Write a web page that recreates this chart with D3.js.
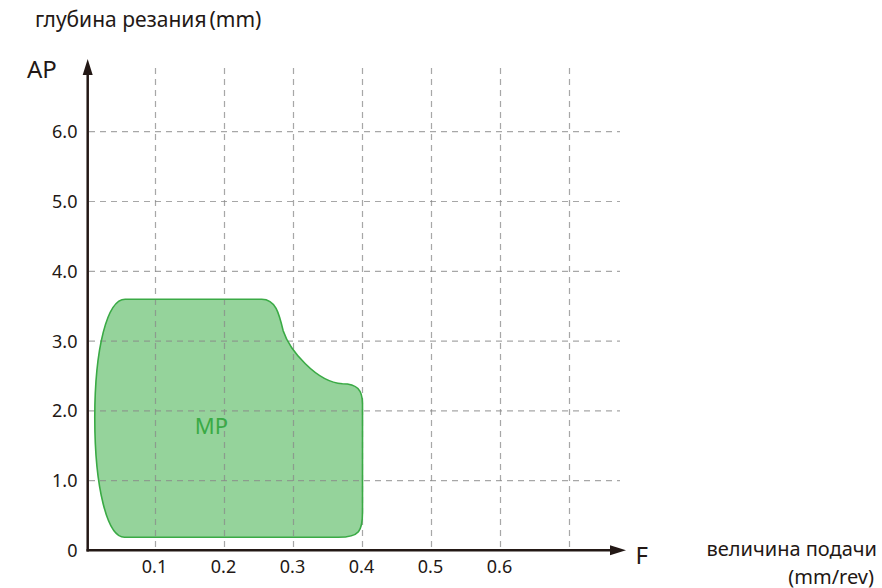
<!DOCTYPE html>
<html><head><meta charset="utf-8">
<script src="https://cdn.jsdelivr.net/npm/d3@7/dist/d3.min.js"></script>
<style>body{margin:0;background:#fff}svg{display:block}text{font-family:"Noto Sans","Open Sans",sans-serif;fill:#231815}</style>
</head><body><svg id="c" width="882" height="588"></svg>
<script>
const xTicks = [0.1,0.2,0.3,0.4,0.5,0.6];
const xGrid = [0.1,0.2,0.3,0.4,0.5,0.6,0.7];
const yTicks = [0,1,2,3,4,5,6];
const yTickLabels = ["0","1.0","2.0","3.0","4.0","5.0","6.0"];
const yGrid = [1,2,3,4,5,6];
// MP region outline (feed F, depth AP): path commands and their points
const mpCmd = ["M","L","C","C","C","L","C","L","C","C"];
const mpF  = [0.056, 0.254, 0.274,0.279,0.285, 0.294,0.333,0.371, 0.392,0.400,0.400, 0.400, 0.400,0.396,0.365, 0.055, 0.030,0.012,0.012, 0.012,0.030,0.056];
const mpAP = [3.6,   3.6,   3.6,3.40,3.15,     2.88,2.41,2.39,    2.39,2.30,2.10,    0.55,  0.28,0.19,0.19,    0.19,  0.19,0.90,1.90,    2.90,3.60,3.60];

const svg = d3.select("#c");
const x = d3.scaleLinear().domain([0,0.1]).range([86.5,155.5]);
const y = d3.scaleLinear().domain([0,1]).range([550.5,480.7]);
const ink = "#231815";

// region path built from scaled data
const p = d3.path();
let k = 0;
mpCmd.forEach(c=>{
  if(c==="M"){p.moveTo(x(mpF[k]),y(mpAP[k]));k+=1;}
  else if(c==="L"){p.lineTo(x(mpF[k]),y(mpAP[k]));k+=1;}
  else {p.bezierCurveTo(x(mpF[k]),y(mpAP[k]),x(mpF[k+1]),y(mpAP[k+1]),x(mpF[k+2]),y(mpAP[k+2]));k+=3;}
});
p.closePath();
const dStr = p.toString();
svg.append("path").attr("d",dStr).attr("fill","#95d39b").attr("stroke","none");

// grid (over fill)
const g = svg.append("g").attr("stroke","#8a8a8a").attr("stroke-opacity",0.75).attr("stroke-width",1.2).attr("stroke-dasharray","6,5");
g.selectAll(".h").data(yGrid).join("line").attr("x1",89).attr("x2",620).attr("y1",d=>y(d)).attr("y2",d=>y(d));
g.selectAll(".v").data(xGrid).join("line").attr("x1",d=>x(d)).attr("x2",d=>x(d)).attr("y1",68).attr("y2",549);

svg.append("path").attr("d",dStr).attr("fill","none").attr("stroke","#3aaa45").attr("stroke-width",1.6);
svg.append("text").attr("x",x(0.157)).attr("y",y(1.665)).attr("font-size",22).style("fill","#3aaa45").text("MP");

// axes
svg.append("line").attr("x1",87.7).attr("x2",87.7).attr("y1",551.5).attr("y2",70).attr("stroke",ink).attr("stroke-width",2.5);
svg.append("path").attr("d","M87.7,59 L82.7,75 L92.7,75 Z").attr("fill",ink);
svg.append("line").attr("x1",86.5).attr("x2",614).attr("y1",550.3).attr("y2",550.3).attr("stroke",ink).attr("stroke-width",2.5);
svg.append("path").attr("d","M626,550.3 L610,545.3 L610,555.3 Z").attr("fill",ink);

// tick labels
svg.selectAll(".yl").data(yTicks).join("text").attr("x",77.5).attr("y",d=>d===0?557:y(d)+6.5)
  .attr("text-anchor","end").attr("font-size",18).text((d,i)=>yTickLabels[i]);
svg.selectAll(".xl").data(xTicks).join("text").attr("x",d=>x(d)-1).attr("y",573)
  .attr("text-anchor","middle").attr("font-size",18).text(d=>d.toFixed(1));

// titles
const t = svg.append("text").attr("x",35).attr("y",27).attr("font-size",21);
t.append("tspan").text("глубина резания");
t.append("tspan").attr("dx",3).text("(mm)");
svg.append("text").attr("x",27).attr("y",78.3).attr("font-size",24).text("AP");
svg.append("text").attr("x",635.5).attr("y",564).attr("font-size",24).text("F");
svg.append("text").attr("x",877).attr("y",555.5).attr("text-anchor","end").attr("font-size",20).text("величина подачи");
svg.append("text").attr("x",874).attr("y",583.5).attr("text-anchor","end").attr("font-size",20).text("(mm/rev)");
</script></body></html>
